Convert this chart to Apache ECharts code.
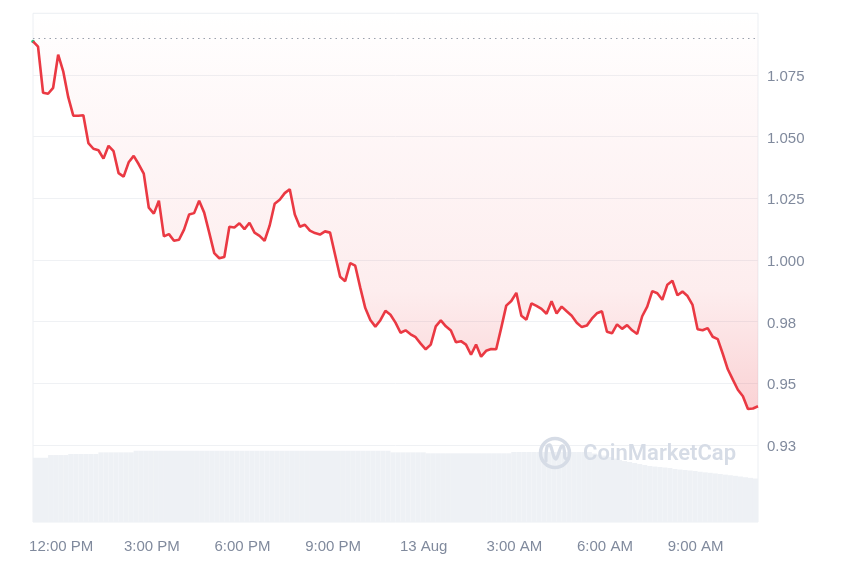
<!DOCTYPE html>
<html><head><meta charset="utf-8">
<script src="https://cdn.jsdelivr.net/npm/echarts@6/dist/echarts.min.js"></script>
<style>html,body{margin:0;padding:0;background:#fff}#c{width:850px;height:567px}</style>
</head><body><div id="c"></div>
<script>
// time axis in minutes from 12:00 PM, 12 Aug
const startMinute = -56;
const stepMinutes = 10;
const prices = [
1.0886,1.0865,1.0678,1.0674,1.0698,1.0832,1.0765,1.0660,1.0585,1.0585,
1.0587,1.0474,1.0451,1.0445,1.0411,1.0463,1.0441,1.0352,1.0338,1.0396,
1.0422,1.0388,1.0350,1.0212,1.0188,1.0240,1.0096,1.0105,1.0078,1.0082,
1.0123,1.0184,1.0190,1.0240,1.0192,1.0111,1.0028,1.0007,1.0012,1.0135,
1.0132,1.0149,1.0125,1.0151,1.0111,1.0098,1.0078,1.0139,1.0228,1.0244,
1.0271,1.0287,1.0184,1.0135,1.0143,1.0119,1.0109,1.0103,1.0116,1.0111,
1.0021,0.9932,0.9914,0.9987,0.9977,0.9888,0.9805,0.9757,0.9730,0.9756,
0.9794,0.9778,0.9746,0.9705,0.9715,0.9699,0.9687,0.9661,0.9638,0.9657,
0.9731,0.9755,0.9731,0.9714,0.9667,0.9671,0.9657,0.9616,0.9657,0.9608,
0.9632,0.9639,0.9638,0.9725,0.9815,0.9834,0.9867,0.9774,0.9758,0.9824,
0.9814,0.9802,0.9782,0.9833,0.9783,0.9811,0.9792,0.9774,0.9746,0.9728,
0.9734,0.9762,0.9784,0.9792,0.9709,0.9703,0.9739,0.9721,0.9736,0.9715,
0.9700,0.9772,0.9811,0.9874,0.9865,0.9839,0.9900,0.9916,0.9857,0.9872,
0.9854,0.9818,0.9719,0.9715,0.9724,0.9689,0.9679,0.9620,0.9557,0.9515,
0.9474,0.9448,0.9396,0.9398,0.9407
];
const volumes = [
126.3,126.3,126.3,131.6,131.6,131.6,131.6,133.6,133.6,133.6,
133.6,133.6,133.6,136.9,136.9,136.9,136.9,136.9,136.9,136.9,
140.1,140.1,140.1,140.1,140.1,140.1,140.1,140.1,140.1,140.1,
140.1,140.1,140.1,140.1,140.1,140.1,140.1,140.1,140.1,140.1,
140.1,140.1,140.1,140.1,140.1,140.1,140.1,140.1,140.1,140.1,
140.1,140.1,140.1,140.1,140.1,140.1,140.1,140.1,140.1,140.1,
140.1,140.1,140.1,140.1,140.1,140.1,140.1,140.1,140.1,140.1,
140.1,136.9,136.9,136.9,136.9,136.9,136.9,136.9,135.0,135.0,
135.0,135.0,135.0,135.0,135.0,135.0,135.0,135.0,135.0,135.0,
135.0,135.0,135.0,135.0,135.0,137.5,137.5,137.5,137.5,137.5,
137.5,137.5,137.5,137.5,137.5,137.5,137.5,137.5,137.5,137.5,
137.5,134.6,132.6,130.6,127.7,124.8,121.8,119.8,117.9,115.9,
113.9,112.0,110.0,109.0,108.1,107.1,106.1,104.1,103.1,102.2,
101.2,100.2,98.8,97.6,96.7,95.5,94.3,93.1,91.9,90.8,
89.4,88.0,86.8,85.5
];
const openPrice = 1.0882;
const xTickMinutes = [0,180,360,540,720,900,1080,1260];
const xTickLabels = ['12:00 PM','3:00 PM','6:00 PM','9:00 PM','13 Aug','3:00 AM','6:00 AM','9:00 AM'];
const yTickValues = [0.925,0.95,0.975,1.0,1.025,1.05,1.075];
const yTickLabels = ['0.93','0.95','0.98','1.000','1.025','1.050','1.075'];

const endMinute = startMinute + stepMinutes * (prices.length - 1);
const priceData = prices.map((p, i) => [startMinute + i * stepMinutes, p]);
const volData = volumes.map((v, i) => [startMinute + (i + 0.5) * stepMinutes, v]);

const labelColor = '#808a9d';
const fontFamily = 'Liberation Sans, Arial, sans-serif';
const red = '#ea3943';

const chart = echarts.init(document.getElementById('c'), null, {renderer: 'canvas'});
chart.setOption({
  animation: false,
  backgroundColor: '#ffffff',
  grid: [
    {left: 33, right: 92, top: 13.3, bottom: 60.3, show: false},
    {left: 33, right: 92, top: 13.3, bottom: 45, show: true, borderColor: '#eceff3', borderWidth: 1, backgroundColor: 'transparent'}
  ],
  xAxis: [
    {type: 'value', gridIndex: 0, min: startMinute, max: endMinute, show: false},
    {type: 'value', gridIndex: 1, min: startMinute, max: endMinute,
     axisLine: {show: false}, axisTick: {show: false}, splitLine: {show: false},
     axisLabel: {
       customValues: xTickMinutes,
       margin: 17,
       color: labelColor, fontSize: 15, fontFamily: fontFamily,
       formatter: v => { const k = xTickMinutes.indexOf(Math.round(v)); return k >= 0 ? xTickLabels[k] : ''; }
     }}
  ],
  yAxis: [
    {type: 'value', gridIndex: 0, position: 'right', min: 0.9, max: 1.1, interval: 0.025,
     axisLine: {show: false}, axisTick: {show: false},
     splitLine: {show: true, showMinLine: false, showMaxLine: false, lineStyle: {color: '#eff1f4', width: 1}},
     axisLabel: {
       margin: 9, color: labelColor, fontSize: 15, fontFamily: fontFamily,
       rich: {t: {color: labelColor, fontSize: 15, fontFamily: fontFamily, padding: [4, 0, 0, 0]}},
       formatter: v => { for (let j = 0; j < yTickValues.length; j++) { if (Math.abs(v - yTickValues[j]) < 1e-6) return '{t|' + yTickLabels[j] + '}'; } return ''; }
     }},
    {type: 'value', gridIndex: 1, min: 0, max: 1000, show: false}
  ],
  series: [
    {
      type: 'line', xAxisIndex: 0, yAxisIndex: 0, data: priceData,
      symbol: 'none', smooth: false, z: 5,
      lineStyle: {width: 2.6, color: red},
      areaStyle: {
        origin: 'end',
        color: new echarts.graphic.LinearGradient(0, 0, 0, 1, [
          {offset: 0, color: 'rgba(234,57,67,0.0)'},
          {offset: 0.25, color: 'rgba(234,57,67,0.05)'},
          {offset: 0.7, color: 'rgba(234,57,67,0.13)'},
          {offset: 1, color: 'rgba(234,57,67,0.32)'}
        ])
      },
      markLine: {
        silent: true, symbol: 'none', label: {show: false},
        lineStyle: {type: [1.5, 4], color: '#9aa1ad', width: 1.2},
        data: [{yAxis: openPrice}]
      },
      markPoint: {
        silent: true, symbol: 'circle', symbolSize: 3.5,
        itemStyle: {color: '#16c784'}, label: {show: false},
        data: [{coord: priceData[0]}]
      }
    },
    {
      type: 'bar', xAxisIndex: 1, yAxisIndex: 1, data: volData,
      barWidth: 5.1, itemStyle: {color: '#eef1f5'}, z: 1, silent: true
    }
  ],
  graphic: [
    {type: 'circle', z: 100, shape: {cx: 555, cy: 453, r: 14.5},
     style: {fill: 'none', stroke: '#d6dce6', lineWidth: 3.5}},
    {type: 'polyline', z: 100, shape: {smooth: 0.4, points: [[546,461],[547,447],[550,445],[554,457],[556,459],[558,455],[561,447],[563,446],[564.5,452],[565,458],[568,459]]},
     style: {fill: 'none', stroke: '#d6dce6', lineWidth: 3.2, lineCap: 'round', lineJoin: 'round'}},
    {type: 'text', z: 100, left: 583, top: 443,
     style: {text: 'CoinMarketCap', fill: '#d6dce6', font: '600 22px Roboto, sans-serif'}}
  ]
});
</script>
</body></html>
